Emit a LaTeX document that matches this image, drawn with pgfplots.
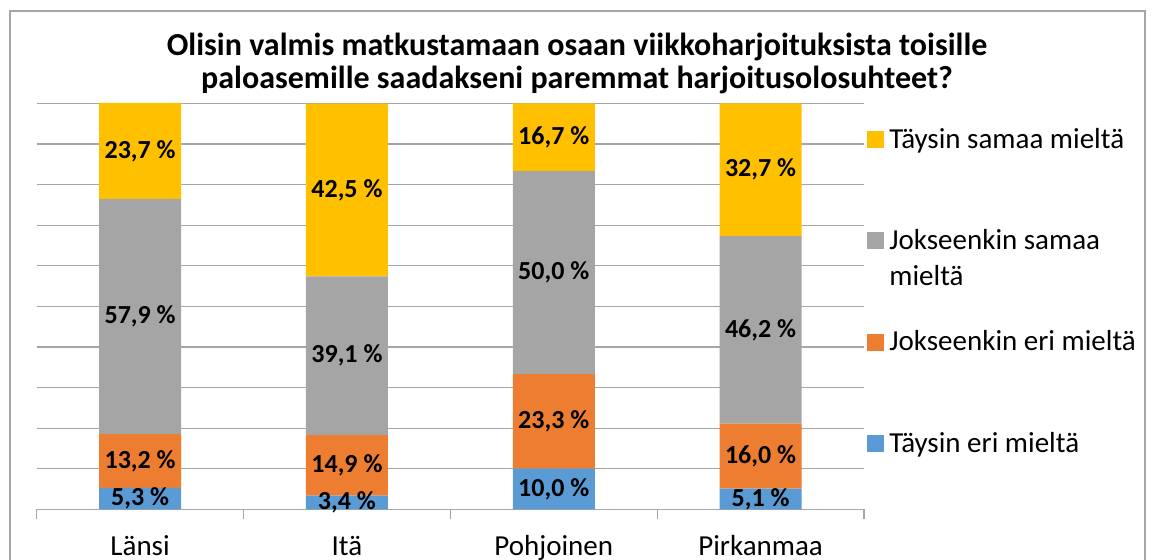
\documentclass[border=0pt]{standalone}
\usepackage{pgfplots}
\pgfplotsset{compat=1.18}
\usepackage{fontspec}
\setmainfont{Carlito}
\definecolor{cYellow}{HTML}{FFC000}
\definecolor{cGray}{HTML}{A5A5A5}
\definecolor{cOrange}{HTML}{ED7D31}
\definecolor{cBlue}{HTML}{5B9BD5}
\definecolor{gridc}{HTML}{A6A6A6}
\newcommand{\legtxt}[1]{\raisebox{0pt}[10pt][3pt]{#1}}
\pgfplotsset{samebox/.style={at={(18.35pt,24.85pt)}, anchor=south west,
    scale only axis, width=413.65pt, height=203pt,
    xmin=-0.5, xmax=3.5, ymin=0, ymax=100, clip=false}}

\begin{document}
\begin{tikzpicture}
\useasboundingbox (0,0) rectangle (577pt,279.5pt);
\draw[gridc, line width=0.7pt] (5pt,-10pt) rectangle (572.5pt,274pt);
\node[anchor=base, align=center, font=\bfseries\fontsize{16}{16.5}\selectfont]
  at (288.5pt,235.5pt) {Olisin valmis matkustamaan osaan viikkoharjoituksista toisille\\paloasemille saadakseni paremmat harjoitusolosuhteet?};
\begin{axis}[
    samebox,
    ybar stacked, bar width=41pt,
    xtick={0,1,2,3},
    xticklabels={Länsi,Itä,Pohjoinen,Pirkanmaa},
    minor xtick={-0.5,0.5,1.5,2.5,3.5},
    major tick length=0pt, minor tick length=5pt,
    xtick align=outside,
    ytick={0,10,...,100}, yticklabels={},
    ymajorgrids, grid style={gridc, line width=0.6pt},
    axis x line*=bottom, axis y line*=left,
    y axis line style={draw=none},
    x axis line style={gridc, line width=0.6pt},
    tick style={gridc, line width=0.6pt},
    xticklabel style={anchor=base, yshift=-22.85pt, font=\fontsize{14.5}{17}\selectfont},
    sq/.style={legend image code/.code={\fill[##1,draw=none] (0pt,0pt) rectangle (8.5pt,8.5pt);}},
    reverse legend,
    legend style={draw=none, fill=none, inner sep=0pt,
        at={(axis description cs:1.0036,0.950)}, anchor=north west,
        cells={anchor=base west, inner sep=0pt},
        row sep=35.2pt,
        /tikz/every odd column/.style={column sep=0.5pt},
        font=\fontsize{14.5}{18}\selectfont},
]
\addplot[fill=cBlue, draw=none, sq] coordinates {(0,5.3) (1,3.4) (2,10.0) (3,5.1)};
\addlegendentry{\legtxt{Täysin eri mieltä}}
\addplot[fill=cOrange, draw=none, sq] coordinates {(0,13.2) (1,14.9) (2,23.3) (3,16.0)};
\addlegendentry{\legtxt{Jokseenkin eri mieltä}}
\addplot[fill=cGray, draw=none, sq] coordinates {(0,57.9) (1,39.1) (2,50.0) (3,46.2)};
\addlegendentry{\legtxt{\parbox[t]{130pt}{Jokseenkin samaa\\mieltä}}}
\addplot[fill=cYellow, draw=none, sq] coordinates {(0,23.7) (1,42.5) (2,16.7) (3,32.7)};
\addlegendentry{\legtxt{Täysin samaa mieltä}}
\end{axis}
% data labels: same box, not stacked, each label at the middle of its segment
\begin{axis}[
    samebox, hide axis,
    nodes near coords={\pgfmathprintnumber[fixed,fixed zerofill,precision=1,use comma,assume math mode=true]{\pgfplotspointmeta}~\%},
    every node near coord/.style={anchor=center, inner sep=0pt,
        font=\bfseries\fontsize{13}{15}\selectfont, text=black},
]
\addplot[draw=none, mark=none, point meta=explicit] coordinates {
  (0,2.65) [5.3]  (0,11.9) [13.2]  (0,47.45) [57.9]  (0,88.25) [23.7]
  (1,1.7) [3.4]   (1,10.85) [14.9] (1,37.85) [39.1]  (1,78.65) [42.5]
  (2,5.0) [10.0]  (2,21.65) [23.3] (2,58.3) [50.0]   (2,91.65) [16.7]
  (3,2.55) [5.1]  (3,13.1) [16.0]  (3,44.2) [46.2]   (3,83.65) [32.7]
};
\end{axis}
\end{tikzpicture}
\end{document}
